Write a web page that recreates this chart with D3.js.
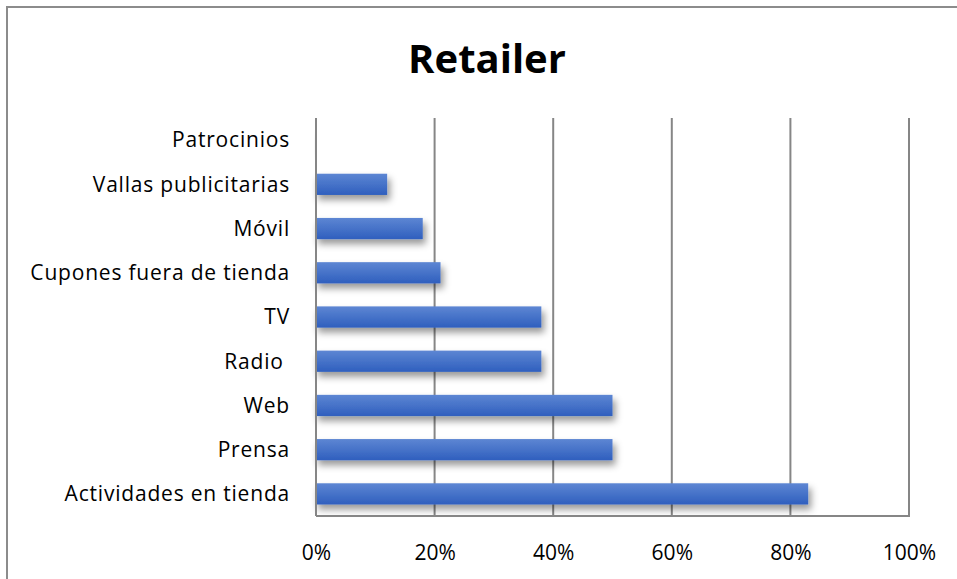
<!DOCTYPE html>
<html><head><meta charset="utf-8">
<script src="https://cdn.jsdelivr.net/npm/d3@7/dist/d3.min.js"></script>
<style>body{margin:0;background:#fff}svg{display:block}text{font-family:"Open Sans",sans-serif;fill:#000}</style>
</head><body>
<svg id="c" width="957" height="579"></svg>
<script>
const categories = ["Patrocinios","Vallas publicitarias","Móvil","Cupones fuera de tienda","TV","Radio ","Web","Prensa","Actividades en tienda"];
const values = [0.0, 0.12, 0.18, 0.21, 0.38, 0.38, 0.50, 0.50, 0.83];
const tickValues = [0, 0.2, 0.4, 0.6, 0.8, 1.0];
const tickLabels = ["0%","20%","40%","60%","80%","100%"];
const title = "Retailer";

const svg = d3.select("#c");
const W = 957, H = 579;
const m = {left: 316, right: 909, top: 118, bottom: 516};
const FONT = "'Open Sans',sans-serif";

// frame
svg.append("rect").attr("x",7).attr("y",7).attr("width",W+10).attr("height",H+10)
  .attr("fill","#fff").attr("stroke","#8c8c8c").attr("stroke-width",2);

const defs = svg.append("defs");
const g = defs.append("linearGradient").attr("id","bg").attr("x1",0).attr("y1",0).attr("x2",0).attr("y2",1);
g.append("stop").attr("offset","0%").attr("stop-color","#5d86d3");
g.append("stop").attr("offset","100%").attr("stop-color","#2f5fbe");
const f = defs.append("filter").attr("id","sh").attr("x","-10%").attr("y","-50%").attr("width","130%").attr("height","250%");
f.append("feDropShadow").attr("dx",3).attr("dy",5).attr("stdDeviation",3.5).attr("flood-color","#000").attr("flood-opacity",0.4);

const x = d3.scaleLinear().domain([0,1]).range([m.left, m.right]);
const y = d3.scaleBand().domain(categories).range([m.top, m.bottom]).paddingInner(0.52).paddingOuter(0.26);

// gridlines
svg.append("g").selectAll("line").data(tickValues.slice(1)).join("line")
  .attr("x1",d=>x(d)).attr("x2",d=>x(d)).attr("y1",m.top).attr("y2",m.bottom)
  .attr("stroke","#868686").attr("stroke-width",2);

// bars
svg.append("g").selectAll("rect").data(values).join("rect")
  .attr("x",x(0)-1).attr("y",(d,i)=>y(categories[i]))
  .attr("width",d=>Math.max(0.5,x(d)-x(0)+1)).attr("height",y.bandwidth())
  .attr("fill","url(#bg)").attr("filter","url(#sh)");

// axis lines
svg.append("line").attr("x1",x(0)).attr("x2",x(0)).attr("y1",m.top).attr("y2",m.bottom)
  .attr("stroke","#868686").attr("stroke-width",2);
svg.append("line").attr("x1",x(0)).attr("x2",x(1)+1).attr("y1",m.bottom).attr("y2",m.bottom)
  .attr("stroke","#868686").attr("stroke-width",2);

// x tick labels
const xa = d3.axisBottom(x).tickValues(tickValues).tickFormat((d,i)=>tickLabels[i]).tickSize(0).tickPadding(0);
const xg = svg.append("g").attr("transform",`translate(0,${m.bottom+44})`).call(xa);
xg.select(".domain").remove();
xg.selectAll("text").attr("font-size",21).attr("dy",0).attr("font-family",FONT).attr("fill","#000");

// y labels
const ya = d3.axisLeft(y).tickSize(0).tickPadding(0);
const yg = svg.append("g").attr("transform",`translate(290,0)`).call(ya);
yg.select(".domain").remove();
yg.selectAll("text").attr("font-size",21).attr("font-family",FONT).attr("fill","#000")
  .attr("letter-spacing",0.8).style("white-space","pre").attr("dy","0.35em");

// title
svg.append("text").attr("x",487).attr("y",73).attr("text-anchor","middle")
  .attr("font-size",40).attr("font-weight","bold").attr("font-family",FONT).text(title);
</script>
</body></html>
